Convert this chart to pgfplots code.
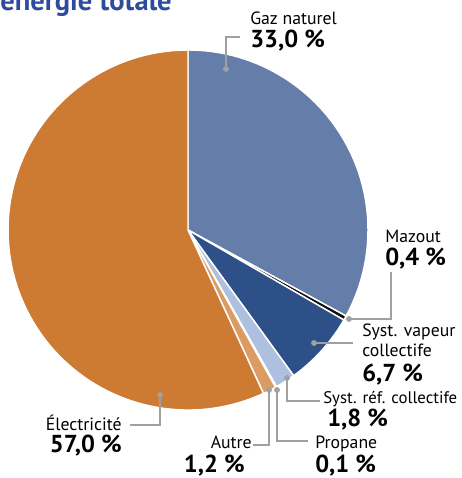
\documentclass[border=0pt]{standalone}
\usepackage{pgfplots}
\pgfplotsset{compat=1.18}
\usepackage{fontspec}
\setmainfont{PT Sans}
\definecolor{cgaz}{RGB}{101,125,169}
\definecolor{cmaz}{RGB}{14,14,14}
\definecolor{cvap}{RGB}{45,80,136}
\definecolor{cref}{RGB}{174,192,223}
\definecolor{cprop}{RGB}{200,205,215}
\definecolor{cautre}{RGB}{220,155,98}
\definecolor{celec}{RGB}{205,122,50}
\definecolor{leader}{RGB}{160,160,160}
\definecolor{ctitle}{RGB}{45,76,155}
\newcommand{\lab}{\fontsize{13.3}{16}\selectfont}
\newcommand{\val}{\fontsize{18.4}{21}\selectfont\bfseries}
% shares (%)
\def\vGaz{33.0}\def\vMaz{0.4}\def\vVap{6.7}\def\vRef{1.8}\def\vProp{0.1}\def\vAutre{1.2}\def\vElec{57.0}
\pgfplotsset{ldr/.style={color=leader, solid, line width=0.9pt, mark=*, mark indices={1}, mark size=1.7pt, mark options={fill=leader, draw=none}}}
\begin{document}
\begin{tikzpicture}
\pgfmathsetmacro\tot{\vGaz+\vMaz+\vVap+\vRef+\vProp+\vAutre+\vElec}
\pgfmathsetmacro\aA{90}
\pgfmathsetmacro\aB{\aA-360*\vGaz/\tot}
\pgfmathsetmacro\aC{\aB-360*\vMaz/\tot}
\pgfmathsetmacro\aD{\aC-360*\vVap/\tot}
\pgfmathsetmacro\aE{\aD-360*\vRef/\tot}
\pgfmathsetmacro\aF{\aE-360*\vProp/\tot}
\pgfmathsetmacro\aG{\aF-360*\vAutre/\tot}
\pgfmathsetmacro\aH{-270}
\begin{axis}[hide axis, scale only axis, width=345.75pt, height=358.5pt,
  xmin=-188, xmax=273, ymin=-248, ymax=230, clip=false]
\tikzset{slice/.style={draw=white, line width=1.1pt, line join=round}}
\filldraw[slice, fill=cgaz] (axis cs:0,0) -- ++(\aA:135pt) arc[start angle=\aA, end angle=\aB, radius=135pt] -- cycle;
\filldraw[slice, fill=cmaz] (axis cs:0,0) -- ++(\aB:135pt) arc[start angle=\aB, end angle=\aC, radius=135pt] -- cycle;
\filldraw[slice, fill=cvap] (axis cs:0,0) -- ++(\aC:135pt) arc[start angle=\aC, end angle=\aD, radius=135pt] -- cycle;
\filldraw[slice, fill=cref] (axis cs:0,0) -- ++(\aD:135pt) arc[start angle=\aD, end angle=\aE, radius=135pt] -- cycle;
\filldraw[slice, fill=cprop] (axis cs:0,0) -- ++(\aE:135pt) arc[start angle=\aE, end angle=\aF, radius=135pt] -- cycle;
\filldraw[slice, fill=cautre] (axis cs:0,0) -- ++(\aF:135pt) arc[start angle=\aF, end angle=\aG, radius=135pt] -- cycle;
\filldraw[slice, fill=celec] (axis cs:0,0) -- ++(\aG:135pt) arc[start angle=\aG, end angle=\aH, radius=135pt] -- cycle;
\addplot[ldr] coordinates {(38,161) (38,193) (52,193)};
\addplot[ldr] coordinates {(161,-89) (203,-89) (203,-42)};
\addplot[ldr] coordinates {(126,-113) (165,-113)};
\addplot[ldr] coordinates {(99,-148) (99,-171) (132,-171)};
\addplot[ldr] coordinates {(89,-160) (89,-211) (120,-211)};
\addplot[ldr] coordinates {(81,-160) (81,-215) (65,-215)};
\addplot[ldr] coordinates {(-28,-165) (-28,-195) (-58,-195)};
\node[inner sep=0pt, anchor=base west] at (axis cs:-188,219) {\fontsize{21.4}{25}\selectfont\bfseries\color{ctitle}énergie totale};
\node[inner sep=0pt, anchor=base west] at (axis cs:62,205) {\lab Gaz naturel};
\node[inner sep=0pt, anchor=base west] at (axis cs:62,182) {\val 33,0 \%};
\node[inner sep=0pt, anchor=base west] at (axis cs:197,-13) {\lab Mazout};
\node[inner sep=0pt, anchor=base west] at (axis cs:197,-36) {\val 0,4 \%};
\node[inner sep=0pt, anchor=base west] at (axis cs:174,-107) {\lab Syst. vapeur};
\node[inner sep=0pt, anchor=base west] at (axis cs:174,-127) {\lab collectife};
\node[inner sep=0pt, anchor=base west] at (axis cs:174,-152) {\val 6,7 \%};
\node[inner sep=0pt, anchor=base west] at (axis cs:135,-174) {\fontsize{12.6}{15}\selectfont Syst. réf. collectife};
\node[inner sep=0pt, anchor=base west] at (axis cs:139,-197) {\val 1,8 \%};
\node[inner sep=0pt, anchor=base west] at (axis cs:127,-219) {\lab Propane};
\node[inner sep=0pt, anchor=base west] at (axis cs:127,-242) {\val 0,1 \%};
\node[inner sep=0pt, anchor=base east] at (axis cs:64,-219) {\lab Autre};
\node[inner sep=0pt, anchor=base east] at (axis cs:57,-242) {\val 1,2 \%};
\node[inner sep=0pt, anchor=base east] at (axis cs:-66,-201) {\lab Électricité};
\node[inner sep=0pt, anchor=base east] at (axis cs:-66,-223) {\val 57,0 \%};
\end{axis}
\pgfresetboundingbox
\useasboundingbox (current axis.south west) rectangle (current axis.north east);
\end{tikzpicture}
\end{document}
